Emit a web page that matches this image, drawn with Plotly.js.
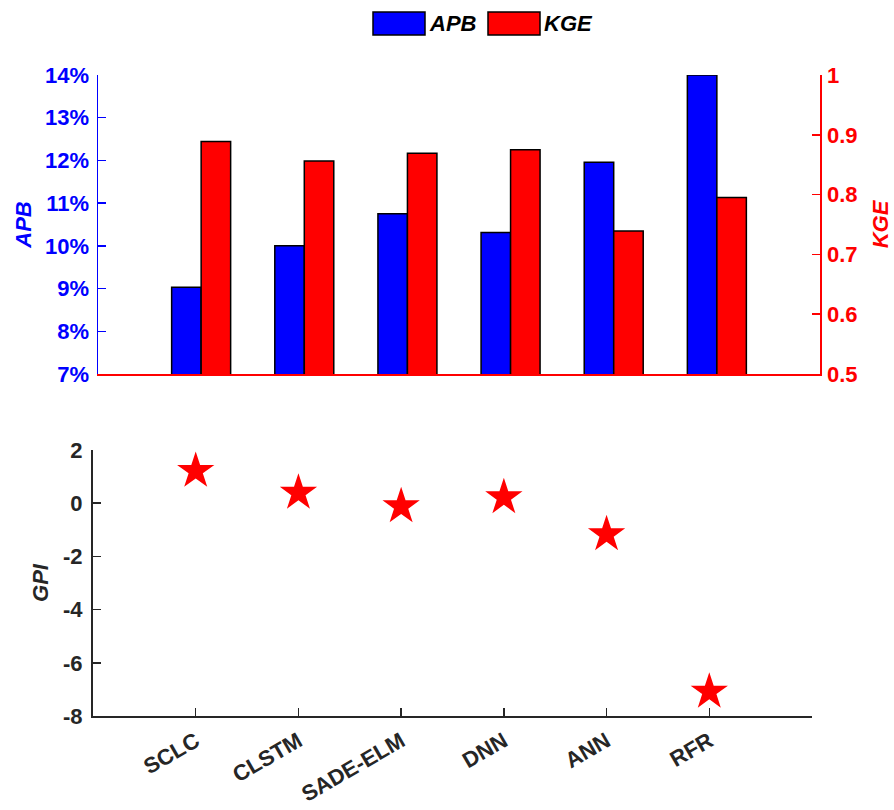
<!DOCTYPE html>
<html>
<head>
<meta charset="utf-8">
<script src="https://cdn.plot.ly/plotly-3.0.1.min.js"></script>
<style>
  html, body { margin: 0; padding: 0; background: #ffffff; }
  #chart { width: 894px; height: 810px; }
</style>
</head>
<body>
<div id="chart"></div>
<script>
// Model names shared by both panels
const categories = ['SCLC', 'CLSTM', 'SADE-ELM', 'DNN', 'ANN', 'RFR'];

// Upper panel: APB (%) on the left axis, KGE on the right axis
const apbValues = [9.03, 10.0, 10.75, 10.31, 11.96, 14.0];
const kgeValues = [0.889, 0.856, 0.869, 0.875, 0.739, 0.795];

// Lower panel: GPI score per model
const gpiValues = [1.21, 0.39, -0.12, 0.22, -1.17, -7.09];

// Tick labels
const apbTicks = [7, 8, 9, 10, 11, 12, 13, 14];
const kgeTicks = [0.5, 0.6, 0.7, 0.8, 0.9, 1];
const gpiTicks = [-8, -6, -4, -2, 0, 2];

const seriesNames = ['APB', 'KGE'];
const seriesColors = ['#0000ff', '#ff0000'];

const W = 894, H = 810;
const px = v => v / W;          // horizontal pixel -> paper
const py = v => 1 - v / H;      // vertical pixel -> paper

const FONT = 'Liberation Sans, Arial, sans-serif';
const DARK = '#262626';
const BAR_W = 0.286;

const traces = [
  {
    type: 'bar', name: seriesNames[0], x: categories, y: apbValues,
    xaxis: 'x', yaxis: 'y', width: BAR_W, offset: -BAR_W,
    marker: { color: seriesColors[0], line: { color: '#000000', width: 1.5 } },
    hoverinfo: 'skip'
  },
  {
    type: 'bar', name: seriesNames[1], x: categories, y: kgeValues,
    xaxis: 'x', yaxis: 'y2', width: BAR_W, offset: 0,
    marker: { color: seriesColors[1], line: { color: '#000000', width: 1.5 } },
    hoverinfo: 'skip'
  },
  {
    type: 'scatter', mode: 'markers', name: 'GPI', x: categories, y: gpiValues,
    xaxis: 'x2', yaxis: 'y3',
    marker: { symbol: 'star', size: 28, color: '#ff0000', line: { width: 0 } },
    hoverinfo: 'skip'
  }
];

// Legend swatches and labels drawn above the upper panel
const shapes = [];
const annotations = [];
let lx = 373;
seriesNames.forEach((name, i) => {
  shapes.push({
    type: 'rect', xref: 'paper', yref: 'paper',
    x0: px(lx), x1: px(lx + 52), y0: py(35), y1: py(12),
    fillcolor: seriesColors[i], line: { color: '#000000', width: 1.5 }
  });
  annotations.push({
    xref: 'paper', yref: 'paper', x: px(lx + 54), y: py(23.5),
    xanchor: 'left', yanchor: 'middle', showarrow: false, text: name,
    font: { family: FONT, size: 22, color: '#000000', weight: 'bold', style: 'italic' }
  });
  lx += 115;
});

const tickFont = color => ({ family: FONT, size: 22, color: color, weight: 'bold' });
const titleFont = color => ({ family: FONT, size: 22, color: color, weight: 'bold', style: 'italic' });

const layout = {
  width: W, height: H,
  margin: { l: 0, r: 0, t: 0, b: 0 },
  paper_bgcolor: '#ffffff', plot_bgcolor: 'rgba(0,0,0,0)',
  showlegend: false,
  barmode: 'overlay',
  font: { family: FONT },
  xaxis: {
    domain: [px(98), px(820)], anchor: 'y', type: 'category', range: [-1, 6],
    showline: true, linecolor: '#ff0000', linewidth: 1.5,
    ticks: '', showticklabels: false, showgrid: false, zeroline: false, fixedrange: true
  },
  yaxis: {
    domain: [py(374), py(75)], anchor: 'x', range: [7, 14],
    tickvals: apbTicks, ticktext: apbTicks.map(v => v + '%'),
    showline: true, linecolor: '#0000ff', linewidth: 1.5,
    ticks: 'inside', ticklen: 8, tickwidth: 1.5, tickcolor: '#0000ff',
    ticklabelstandoff: 3,
    tickfont: tickFont('#0000ff'),
    showgrid: false, zeroline: false, automargin: false,
    title: { text: 'APB', standoff: 7, font: titleFont('#0000ff') }
  },
  yaxis2: {
    overlaying: 'y', side: 'right', anchor: 'x', range: [0.5, 1],
    tickvals: kgeTicks, ticktext: kgeTicks.map(String),
    showline: true, linecolor: '#ff0000', linewidth: 1.5,
    ticks: 'inside', ticklen: 8, tickwidth: 1.5, tickcolor: '#ff0000',
    ticklabelstandoff: 1,
    tickfont: tickFont('#ff0000'),
    showgrid: false, zeroline: false, automargin: false,
    title: { text: 'KGE', standoff: 16, font: titleFont('#ff0000') }
  },
  xaxis2: {
    domain: [px(93), px(812)], anchor: 'y3', type: 'category', range: [-1, 6],
    showline: true, linecolor: DARK, linewidth: 2,
    ticks: 'inside', ticklen: 8, tickwidth: 1.5, tickcolor: DARK,
    tickangle: -30,
    ticklabelstandoff: 2,
    tickfont: tickFont(DARK),
    showgrid: false, zeroline: false, automargin: false, fixedrange: true
  },
  yaxis3: {
    domain: [py(716), py(450)], anchor: 'x2', range: [-8, 2],
    tickvals: gpiTicks, ticktext: gpiTicks.map(String),
    showline: true, linecolor: DARK, linewidth: 2,
    ticks: 'inside', ticklen: 8, tickwidth: 1.5, tickcolor: DARK,
    ticklabelstandoff: 4,
    tickfont: tickFont(DARK),
    showgrid: false, zeroline: false, automargin: false,
    title: { text: 'GPI', standoff: 8, font: titleFont(DARK) }
  },
  shapes: shapes,
  annotations: annotations
};

Plotly.newPlot('chart', traces, layout, { displayModeBar: false, staticPlot: true });
</script>
</body>
</html>
